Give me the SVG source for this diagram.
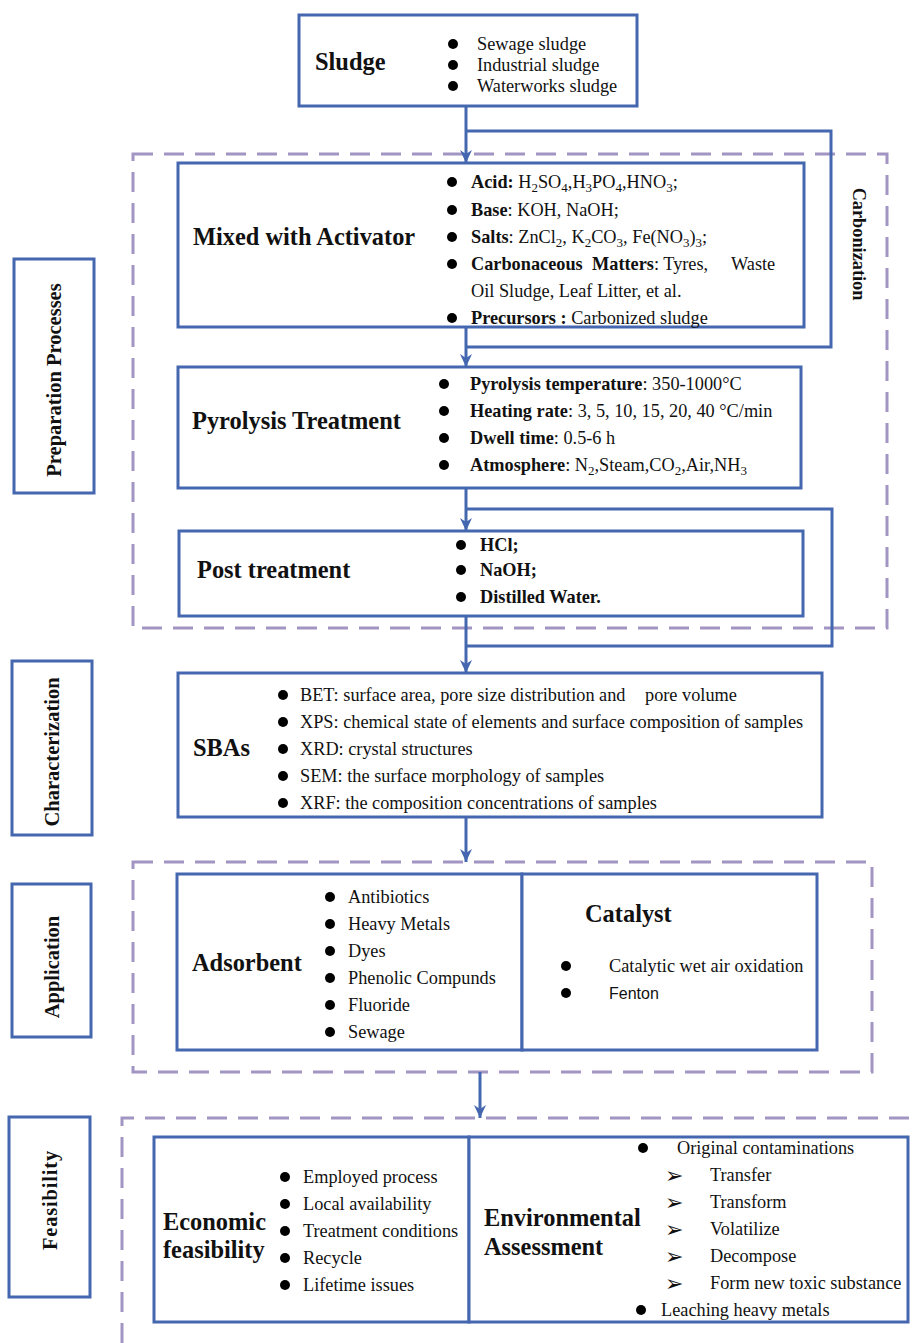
<svg xmlns="http://www.w3.org/2000/svg" width="920" height="1343" viewBox="0 0 920 1343">
<defs>
<style>
.box{fill:#fff;stroke:#4467b0;stroke-width:3}
.dash{fill:none;stroke:#a295c4;stroke-width:3;stroke-dasharray:20 11}
.conn{fill:none;stroke:#4467b0;stroke-width:3}
text{font-family:"Liberation Serif","Times New Roman",serif;fill:#111}
.t{font-size:18.3px}
.h{font-size:24.4px;font-weight:bold}
.b{font-weight:bold}
.sub{font-size:13px}
.side{font-size:20.5px;font-weight:bold}
.s{font-family:"Liberation Sans",Arial,sans-serif;font-size:16px}
.ar{font-family:"DejaVu Sans",sans-serif;font-size:22px}
.dot{fill:#000}
</style>
<marker id="arr" markerUnits="userSpaceOnUse" markerWidth="14" markerHeight="14" refX="13" refY="7" orient="auto">
<path d="M0,1 L13,7 L0,13 L4,7 z" fill="#4467b0"/>
</marker>
</defs>
<rect width="920" height="1343" fill="#fff"/>

<g id="carbonization-group">
<rect class="dash" x="133" y="154" width="754" height="474"/>
<text class="t b" transform="translate(853,244) rotate(90)" text-anchor="middle">Carbonization</text>
</g>
<g id="application-group"><rect class="dash" x="133" y="862" width="739" height="210"/></g>
<g id="feasibility-group">
<path class="dash" d="M122,1343 L122,1118 L920,1118"/>
</g>

<g id="connectors">
<line class="conn" x1="466" y1="106" x2="466" y2="163" marker-end="url(#arr)"/>
<polyline class="conn" points="466,131 831,131 831,347 466,347"/>
<line class="conn" x1="466" y1="327" x2="466" y2="367" marker-end="url(#arr)"/>
<line class="conn" x1="466" y1="488" x2="466" y2="531" marker-end="url(#arr)"/>
<polyline class="conn" points="466,509 832,509 832,646 466,646"/>
<line class="conn" x1="466" y1="616" x2="466" y2="673" marker-end="url(#arr)"/>
<line class="conn" x1="466" y1="817" x2="466" y2="862" marker-end="url(#arr)"/>
<line class="conn" x1="480" y1="1072" x2="480" y2="1118" marker-end="url(#arr)"/>
</g>

<g id="label-preparation">
<rect class="box" x="14" y="259" width="80" height="234"/>
<text class="side" transform="translate(61,380) rotate(-90)" text-anchor="middle">Preparation Processes</text>
</g>
<g id="label-characterization">
<rect class="box" x="12" y="661" width="80" height="174"/>
<text class="side" transform="translate(59,752) rotate(-90)" text-anchor="middle">Characterization</text>
</g>
<g id="label-application">
<rect class="box" x="12" y="884" width="79" height="153"/>
<text class="side" transform="translate(59,967) rotate(-90)" text-anchor="middle">Application</text>
</g>
<g id="label-feasibility">
<rect class="box" x="9" y="1117" width="81" height="180"/>
<text class="side" transform="translate(57,1200) rotate(-90)" text-anchor="middle" letter-spacing="0.8">Feasibility</text>
</g>

<g id="sludge">
<rect class="box" x="299" y="15" width="338" height="91"/>
<text class="h" x="315" y="70">Sludge</text>
<circle class="dot" cx="453" cy="44" r="5"/><circle class="dot" cx="453" cy="65" r="5"/><circle class="dot" cx="453" cy="86" r="5"/>
<text class="t" x="477" y="50">Sewage sludge</text>
<text class="t" x="477" y="71">Industrial sludge</text>
<text class="t" x="477" y="92">Waterworks sludge</text>
</g>

<g id="activator">
<rect class="box" x="178" y="163" width="626" height="164"/>
<text class="h" x="193" y="245">Mixed with Activator</text>
<circle class="dot" cx="452" cy="182" r="5"/><circle class="dot" cx="452" cy="210" r="5"/><circle class="dot" cx="452" cy="237" r="5"/><circle class="dot" cx="452" cy="264" r="5"/><circle class="dot" cx="452" cy="318" r="5"/>
<text class="t" x="471" y="188"><tspan class="b">Acid:</tspan> H<tspan class="sub" dy="4">2</tspan><tspan dy="-4">SO</tspan><tspan class="sub" dy="4">4</tspan><tspan dy="-4">,H</tspan><tspan class="sub" dy="4">3</tspan><tspan dy="-4">PO</tspan><tspan class="sub" dy="4">4</tspan><tspan dy="-4">,HNO</tspan><tspan class="sub" dy="4">3</tspan><tspan dy="-4">;</tspan></text>
<text class="t" x="471" y="216"><tspan class="b">Base</tspan>: KOH, NaOH;</text>
<text class="t" x="471" y="243"><tspan class="b">Salts</tspan>: ZnCl<tspan class="sub" dy="4">2</tspan><tspan dy="-4">, K</tspan><tspan class="sub" dy="4">2</tspan><tspan dy="-4">CO</tspan><tspan class="sub" dy="4">3</tspan><tspan dy="-4">, Fe(NO</tspan><tspan class="sub" dy="4">3</tspan><tspan dy="-4">)</tspan><tspan class="sub" dy="4">3</tspan><tspan dy="-4">;</tspan></text>
<text class="t" x="471" y="270"><tspan class="b">Carbonaceous</tspan><tspan class="b" x="592">Matters</tspan>: Tyres,<tspan x="731">Waste</tspan></text>
<text class="t" x="471" y="297">Oil Sludge, Leaf Litter, et al.</text>
<text class="t" x="471" y="324"><tspan class="b">Precursors :</tspan> Carbonized sludge</text>
</g>

<g id="pyrolysis">
<rect class="box" x="178" y="367" width="623" height="121"/>
<text class="h" x="192" y="429">Pyrolysis Treatment</text>
<circle class="dot" cx="444" cy="384" r="5"/><circle class="dot" cx="444" cy="411" r="5"/><circle class="dot" cx="444" cy="438" r="5"/><circle class="dot" cx="444" cy="465" r="5"/>
<text class="t" x="470" y="390"><tspan class="b">Pyrolysis temperature</tspan>: 350-1000°C</text>
<text class="t" x="470" y="417"><tspan class="b">Heating rate</tspan>: 3, 5, 10, 15, 20, 40 °C/min</text>
<text class="t" x="470" y="444"><tspan class="b">Dwell time</tspan>: 0.5-6 h</text>
<text class="t" x="470" y="471"><tspan class="b">Atmosphere</tspan>: N<tspan class="sub" dy="4">2</tspan><tspan dy="-4">,Steam,CO</tspan><tspan class="sub" dy="4">2</tspan><tspan dy="-4">,Air,NH</tspan><tspan class="sub" dy="4">3</tspan></text>
</g>

<g id="post-treatment">
<rect class="box" x="179" y="531" width="624" height="85"/>
<text class="h" x="197" y="578">Post treatment</text>
<circle class="dot" cx="461" cy="545" r="5"/><circle class="dot" cx="461" cy="570" r="5"/><circle class="dot" cx="461" cy="597" r="5"/>
<text class="t b" x="480" y="551">HCl;</text>
<text class="t b" x="480" y="576">NaOH;</text>
<text class="t b" x="480" y="603">Distilled Water.</text>
</g>

<g id="sbas">
<rect class="box" x="178" y="673" width="644" height="144"/>
<text class="h" x="193" y="756">SBAs</text>
<circle class="dot" cx="283" cy="695" r="5"/><circle class="dot" cx="283" cy="722" r="5"/><circle class="dot" cx="283" cy="749" r="5"/><circle class="dot" cx="283" cy="776" r="5"/><circle class="dot" cx="283" cy="803" r="5"/>
<text class="t" x="300" y="701">BET: surface area, pore size distribution and<tspan x="645">pore volume</tspan></text>
<text class="t" x="300" y="728">XPS: chemical state of elements and surface composition of samples</text>
<text class="t" x="300" y="755">XRD: crystal structures</text>
<text class="t" x="300" y="782">SEM: the surface morphology of samples</text>
<text class="t" x="300" y="809">XRF: the composition concentrations of samples</text>
</g>

<g id="adsorbent">
<rect class="box" x="177" y="874" width="345" height="176"/>
<text class="h" x="192" y="971">Adsorbent</text>
<circle class="dot" cx="330" cy="897" r="5"/><circle class="dot" cx="330" cy="924" r="5"/><circle class="dot" cx="330" cy="951" r="5"/><circle class="dot" cx="330" cy="978" r="5"/><circle class="dot" cx="330" cy="1005" r="5"/><circle class="dot" cx="330" cy="1032" r="5"/>
<text class="t" x="348" y="903">Antibiotics</text>
<text class="t" x="348" y="930">Heavy Metals</text>
<text class="t" x="348" y="957">Dyes</text>
<text class="t" x="348" y="984">Phenolic Compunds</text>
<text class="t" x="348" y="1011">Fluoride</text>
<text class="t" x="348" y="1038">Sewage</text>
</g>
<g id="catalyst">
<rect class="box" x="522" y="874" width="295" height="176"/>
<text class="h" x="585" y="922">Catalyst</text>
<circle class="dot" cx="566" cy="966" r="5"/><circle class="dot" cx="566" cy="993" r="5"/>
<text class="t" x="609" y="972">Catalytic wet air oxidation</text>
<text class="s" x="609" y="999">Fenton</text>
</g>

<g id="economic">
<rect class="box" x="154" y="1137" width="315" height="185"/>
<text class="h" x="163" y="1230">Economic</text>
<text class="h" x="163" y="1258">feasibility</text>
<circle class="dot" cx="285" cy="1177" r="5"/><circle class="dot" cx="285" cy="1204" r="5"/><circle class="dot" cx="285" cy="1231" r="5"/><circle class="dot" cx="285" cy="1258" r="5"/><circle class="dot" cx="285" cy="1285" r="5"/>
<text class="t" x="303" y="1183">Employed process</text>
<text class="t" x="303" y="1210">Local availability</text>
<text class="t" x="303" y="1237">Treatment conditions</text>
<text class="t" x="303" y="1264">Recycle</text>
<text class="t" x="303" y="1291">Lifetime issues</text>
</g>
<g id="environmental">
<rect class="box" x="469" y="1137" width="439" height="185"/>
<text class="h" x="484" y="1226">Environmental</text>
<text class="h" x="484" y="1255">Assessment</text>
<circle class="dot" cx="643" cy="1148" r="5"/>
<text class="t" x="677" y="1154">Original contaminations</text>
<text class="ar" x="665" y="1183">➢</text>
<text class="ar" x="665" y="1210">➢</text>
<text class="ar" x="665" y="1237">➢</text>
<text class="ar" x="665" y="1264">➢</text>
<text class="ar" x="665" y="1291">➢</text>
<text class="t" x="710" y="1181">Transfer</text>
<text class="t" x="710" y="1208">Transform</text>
<text class="t" x="710" y="1235">Volatilize</text>
<text class="t" x="710" y="1262">Decompose</text>
<text class="t" x="710" y="1289">Form new toxic substance</text>
<circle class="dot" cx="641" cy="1310" r="5"/>
<text class="t" x="661" y="1316">Leaching heavy metals</text>
</g>
</svg>
